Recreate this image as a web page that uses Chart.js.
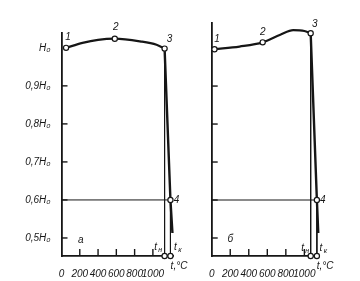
<!DOCTYPE html>
<html><head><meta charset="utf-8">
<script src="https://cdn.jsdelivr.net/npm/chart.js@4/dist/chart.umd.min.js"></script>
<style>
html,body{margin:0;padding:0;background:#fff;}
#wrap{position:relative;width:360px;height:281px;overflow:hidden;}
.c{position:absolute;top:0;height:281px;}
canvas{display:block;}
</style></head><body>
<div id="wrap">
<div class="c" style="left:0;width:200px"><canvas id="ca" width="200" height="281"></canvas></div>
<div class="c" style="left:180px;width:180px"><canvas id="cb" width="180" height="281"></canvas></div>
</div>
<script>
// ---- data ----
const xTicks = [0, 200, 400, 600, 800, 1000];
const yTicks = [0.5, 0.6, 0.7, 0.8, 0.9, 1.0];
const yTickLabels = ['0,5H₀', '0,6H₀', '0,7H₀', '0,8H₀', '0,9H₀', 'H₀'];

// panel а
const aCurveT = [50, 230, 400, 583, 860, 1040, 1128];
const aCurveH = [1.0, 1.013, 1.021, 1.024, 1.017, 1.008, 0.998];
const aKeyT = [50, 583, 1128, 1192];
const aKeyH = [1.0, 1.024, 0.998, 0.6];
const aDropT = [1128, 1192, 1214];
const aDropH = [0.998, 0.6, 0.513];
const aTn = 1128, aTk = 1192;

// panel б
const bCurveT = [30, 300, 550, 740, 880, 1000, 1068];
const bCurveH = [0.997, 1.004, 1.015, 1.035, 1.047, 1.045, 1.039];
const bKeyT = [30, 550, 1068, 1135];
const bKeyH = [0.997, 1.015, 1.039, 0.6];
const bDropT = [1068, 1135, 1150];
const bDropH = [1.039, 0.6, 0.513];
const bTn = 1068, bTk = 1135;

const level = 0.6;
const yMin = 0.4526;

const INK = '#161616';
const FONT = '"Liberation Sans", "DejaVu Sans", sans-serif';

function pts(T, H) { return T.map((t, i) => ({x: t, y: H[i]})); }

const deco = {
  id: 'deco',
  afterDatasetsDraw(chart, args, o) {
    const ctx = chart.ctx, xs = chart.scales.x, ys = chart.scales.y, a = chart.chartArea;
    ctx.save();
    ctx.strokeStyle = INK; ctx.lineWidth = 1.4;
    for (const v of xTicks) {
      if (v === 0) continue;
      const px = xs.getPixelForValue(v);
      ctx.beginPath(); ctx.moveTo(px, a.bottom); ctx.lineTo(px, a.bottom - 7); ctx.stroke();
    }
    for (const v of yTicks) {
      if (v >= 1) continue;
      const py = ys.getPixelForValue(v);
      ctx.beginPath(); ctx.moveTo(a.left, py); ctx.lineTo(a.left + 6, py); ctx.stroke();
    }
    ctx.fillStyle = INK;
    ctx.textAlign = 'center'; ctx.textBaseline = 'middle';
    ctx.font = 'italic 10px ' + FONT;
    for (const L of o.labels) {
      ctx.fillText(L.text, xs.getPixelForValue(L.x) + L.dx, ys.getPixelForValue(L.y) + L.dy);
    }
    // t,°C
    ctx.fillText('t,°C', a.right + o.unitDx, a.bottom + 10);
    // t with subscripts
    for (const S of o.subs) {
      const px = xs.getPixelForValue(S.x) + S.dx, py = a.bottom + S.dy;
      ctx.font = 'italic 10px ' + FONT;
      ctx.fillText('t', px - 2, py);
      ctx.font = 'italic 7px ' + FONT;
      ctx.fillText(S.sub, px + 2.5, py + 3);
    }
    ctx.restore();
  }
};

function makeChart(id, cfg) {
  const lineBase = {borderColor: INK, pointRadius: 0, fill: false, clip: false};
  return new Chart(document.getElementById(id), {
    type: 'line',
    data: {
      datasets: [
        Object.assign({}, lineBase, {data: pts(cfg.keyT, cfg.keyH), showLine: false, pointRadius: 2.6,
          pointBackgroundColor: '#fff', pointBorderColor: INK, pointBorderWidth: 1.2}),
        Object.assign({}, lineBase, {data: [{x: cfg.tn, y: yMin}, {x: cfg.tk, y: yMin}], showLine: false,
          pointRadius: 2.6, pointBackgroundColor: '#fff', pointBorderColor: INK, pointBorderWidth: 1.2}),
        Object.assign({}, lineBase, {data: pts(cfg.curveT, cfg.curveH), borderWidth: 2.2, cubicInterpolationMode: 'monotone'}),
        Object.assign({}, lineBase, {data: pts(cfg.dropT, cfg.dropH), borderWidth: 2.4}),
        Object.assign({}, lineBase, {data: [{x: cfg.tn, y: cfg.dropH[0]}, {x: cfg.tn, y: yMin}], borderWidth: 1}),
        Object.assign({}, lineBase, {data: [{x: cfg.tk, y: level}, {x: cfg.tk, y: yMin}], borderWidth: 1}),
        Object.assign({}, lineBase, {data: [{x: 0, y: level}, {x: cfg.tk, y: level}], borderWidth: 1})
      ]
    },
    options: {
      responsive: false, animation: false, devicePixelRatio: 1,
      layout: {padding: cfg.pad},
      plugins: {legend: {display: false}, tooltip: {enabled: false}, deco: cfg.deco},
      scales: {
        x: {
          type: 'linear', min: 0, max: cfg.xMax,
          afterBuildTicks: s => { s.ticks = xTicks.map(v => ({value: v})); },
          afterFit: s => { s.height = 25; },
          grid: {display: false},
          border: {display: true, color: INK, width: 1.8},
          ticks: {autoSkip: false, maxRotation: 0, padding: 4, color: INK,
            font: {family: FONT, size: 10, style: 'italic'},
            callback: v => String(v)}
        },
        y: {
          type: 'linear', min: yMin, max: cfg.yMax,
          afterBuildTicks: s => { s.ticks = yTicks.map(v => ({value: v})); },
          afterFit: s => { s.width = cfg.yWidth; },
          grid: {display: false},
          border: {display: true, color: INK, width: 1.8},
          ticks: {display: cfg.yLabels, padding: 3, color: INK,
            font: {family: FONT, size: 10, style: 'italic'},
            callback: v => { const i = yTicks.findIndex(t => Math.abs(t - v) < 1e-6); return i >= 0 ? yTickLabels[i] : ''; }}
        }
      }
    },
    plugins: [deco]
  });
}

makeChart('ca', {
  curveT: aCurveT, curveH: aCurveH, keyT: aKeyT, keyH: aKeyH, dropT: aDropT, dropH: aDropH,
  tn: aTn, tk: aTk, xMax: 1220, yMax: 1.039, yWidth: 61.5, yLabels: true,
  pad: {top: 33, right: 27, left: 0, bottom: 0},
  deco: {
    labels: [
      {text: '1', x: aKeyT[0], y: aKeyH[0], dx: 2, dy: -11},
      {text: '2', x: aKeyT[1], y: aKeyH[1], dx: 1, dy: -11},
      {text: '3', x: aKeyT[2], y: aKeyH[2], dx: 5, dy: -9},
      {text: '4', x: aKeyT[3], y: aKeyH[3], dx: 6, dy: 0},
      {text: 'а', x: 200, y: 0.495, dx: 1, dy: 0}
    ],
    subs: [{x: aTn, sub: 'н', dx: -7, dy: -9}, {x: aTk, sub: 'к', dx: 7, dy: -9}],
    unitDx: 6
  }
});

makeChart('cb', {
  curveT: bCurveT, curveH: bCurveH, keyT: bKeyT, keyH: bKeyH, dropT: bDropT, dropH: bDropH,
  tn: bTn, tk: bTk, xMax: 1160, yMax: 1.066, yWidth: 31.7, yLabels: false,
  pad: {top: 23, right: 40.8, left: 0, bottom: 0},
  deco: {
    labels: [
      {text: '1', x: bKeyT[0], y: bKeyH[0], dx: 2.5, dy: -10},
      {text: '2', x: bKeyT[1], y: bKeyH[1], dx: 0, dy: -10},
      {text: '3', x: bKeyT[2], y: bKeyH[2], dx: 4, dy: -9},
      {text: '4', x: bKeyT[3], y: bKeyH[3], dx: 6, dy: 0},
      {text: 'б', x: 200, y: 0.497, dx: 0, dy: 0}
    ],
    subs: [{x: bTn, sub: 'н', dx: -6, dy: -8}, {x: bTk, sub: 'к', dx: 6, dy: -8}],
    unitDx: 6
  }
});
</script>
</body></html>
